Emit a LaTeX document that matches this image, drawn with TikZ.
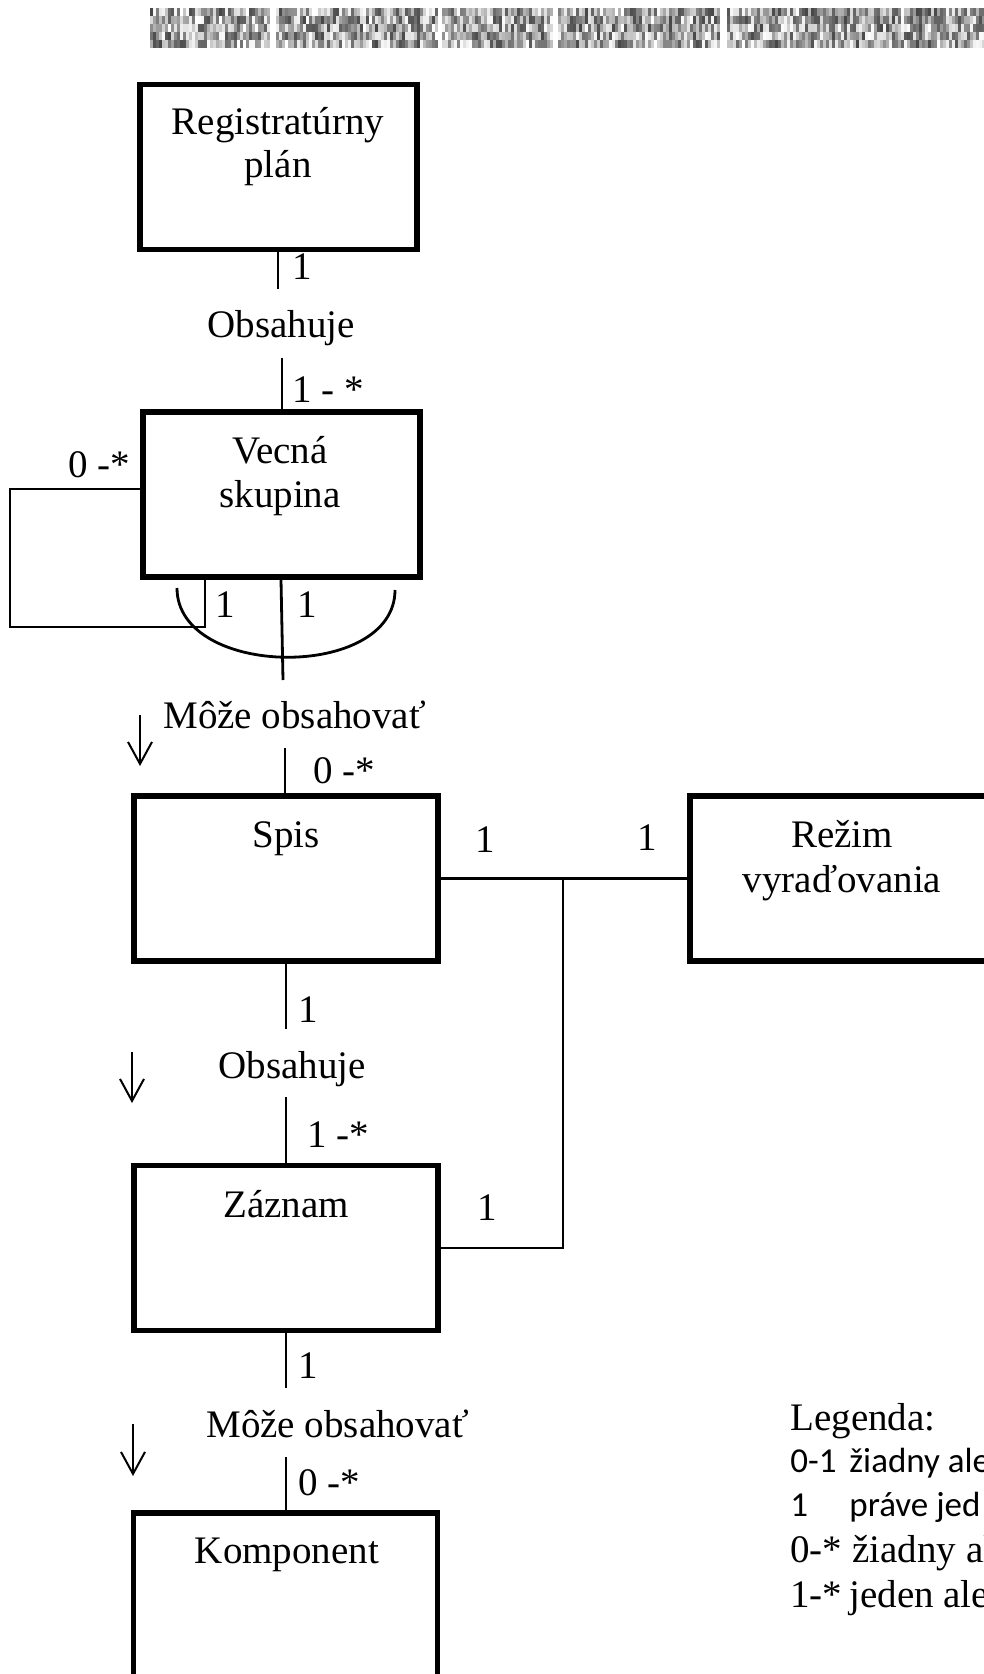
\documentclass[tikz,border=0pt]{standalone}
\usepackage{fontspec}
\setmainfont{Liberation Serif}
\newfontfamily\calfont{Carlito}
\usetikzlibrary{arrows.meta}
\begin{document}
\begin{tikzpicture}[x=0.5pt,y=-0.5pt,
  box/.style={draw, line width=2.9pt, minimum width=#1, minimum height=82.5pt, inner sep=0pt},
  txt/.style={font=\fontsize{19.5pt}{22pt}\selectfont, inner sep=0pt, anchor=base},
  lbl/.style={txt, anchor=base west},
  leg/.style={font=\calfont\fontsize{17.5pt}{20pt}\selectfont, inner sep=0pt, anchor=base west},
  conn/.style={line width=1.4pt},
  downarrow/.style={line width=1pt, -{Straight Barb[length=11pt, width=12pt, line width=1pt]}}]
\path[use as bounding box, clip] (0,0) rectangle (984,1674);
\fill[white] (0,0) rectangle (984,1674);
% noise bars
\pgfmathsetseed{7}
\foreach \xa/\xb in {150/269,276/435,442/551,558/719,727/984} {
  \pgfmathtruncatemacro{\n}{(\xb-\xa)/3}
  \foreach \i in {0,...,\n} {
    \foreach \j in {0,...,4} {
      \pgfmathtruncatemacro{\g}{random(0,72)}
      \fill[black!\g] (\xa+3*\i, 8+8*\j) rectangle ++(3,8);
    }
  }
}
% boxes
\node[box=138.5pt] (rp) at (278.5,167) {};
\node[box=138.5pt] (vs) at (281.5,494.5) {};
\node[box=152pt] (spis) at (286,878.5) {};
\node[box=152pt] (rez) at (842,878.5) {};
\node[box=152pt] (zaz) at (286,1248) {};
\node[box=152pt] (kom) at (285.5,1595.5) {};
% box texts
\node[txt] (rpa) at (278,135) {Registratúrny};
\node[txt] (rpb) at (278,178) {plán};
\node[txt] (vsa) at (280,463) {Vecná};
\node[txt] (vsb) at (280,507) {skupina};
\node[txt] (spist) at (286,847) {Spis};
\node[txt] (reza) at (842,847) {Režim};
\node[txt] (rezb) at (842,892) {vyraďovania};
\node[txt] (zazt) at (286,1217) {Záznam};
\node[txt] (komt) at (287,1563) {Komponent};
% relation labels
\node[lbl] (obs1) at (207,338) {Obsahuje};
\node[lbl] (moz1) at (163,728) {Môže obsahovať};
\node[lbl] (obs2) at (218,1078) {Obsahuje};
\node[lbl] (moz2) at (206,1437) {Môže obsahovať};
% multiplicities
\node[lbl] (m1) at (292,280) {1};
\node[lbl] (m2) at (292,402) {1 - *};
\node[lbl] (m3) at (68,477) {0 -*};
\node[lbl] (m4) at (215,617) {1};
\node[lbl] (m5) at (297,617) {1};
\node[lbl] (m6) at (313,783) {0 -*};
\node[lbl] (m7) at (475,852) {1};
\node[lbl] (m8) at (637,850) {1};
\node[lbl] (m9) at (298,1022) {1};
\node[lbl] (m10) at (307,1147) {1 -*};
\node[lbl] (m11) at (477,1220) {1};
\node[lbl] (m12) at (298,1378) {1};
\node[lbl] (m13) at (298,1495) {0 -*};
% connector end points
\coordinate (c1) at (278,289);
\coordinate (c2) at (282,358);
\coordinate (c3) at (283,680);
\coordinate (c4) at (285,748);
\coordinate (c5) at (286,1029);
\coordinate (c6) at (286,1097);
\coordinate (c7) at (286,1388);
\coordinate (c8) at (286,1457);
\coordinate (j1) at (563,878.5);
% connectors
\draw[conn] (rp.south -| c1) -- (c1);
\draw[conn] (c2) -- (vs.north -| c2);
\draw[conn] (vs.west |- 0,489) -- (10,489) -- (10,627) -- (205,627) -- (vs.south -| 205,0);
\draw[conn] (vs.south -| 281,0) -- (c3);
\draw[conn] (177,588) .. controls (177,679) and (395,681) .. (395,590);
\draw[conn] (c4) -- (spis.north -| c4);
\draw[conn] (spis.south -| c5) -- (c5);
\draw[conn] (spis.east) -- (rez.west);
\draw[conn] (j1) |- (zaz.east);
\draw[conn] (c6) -- (zaz.north -| c6);
\draw[conn] (zaz.south -| c7) -- (c7);
\draw[conn] (c8) -- (kom.north -| c8);
% direction arrows
\coordinate (a1s) at (140,715); \coordinate (a1e) at (140,766);
\coordinate (a2s) at (132,1052); \coordinate (a2e) at (132,1103);
\coordinate (a3s) at (133,1424); \coordinate (a3e) at (133,1476);
\draw[downarrow] (a1s) -- (a1e);
\draw[downarrow] (a2s) -- (a2e);
\draw[downarrow] (a3s) -- (a3e);
% legend
\node[lbl] (legt) at (790,1430) {Legenda:};
\node[leg] (l1a) at (790,1472) {0-1};
\node[leg] (l1b) at (849,1472) {žiadny ale};
\node[leg] (l2a) at (790,1516) {1};
\node[leg] (l2b) at (849,1516) {práve jed};
\node[lbl] (l3a) at (790,1562) {0-*};
\node[lbl] (l3b) at (852,1562) {žiadny al};
\node[lbl] (l4a) at (790,1607) {1-*};
\node[lbl] (l4b) at (849,1607) {jeden ale};
\end{tikzpicture}
\end{document}
